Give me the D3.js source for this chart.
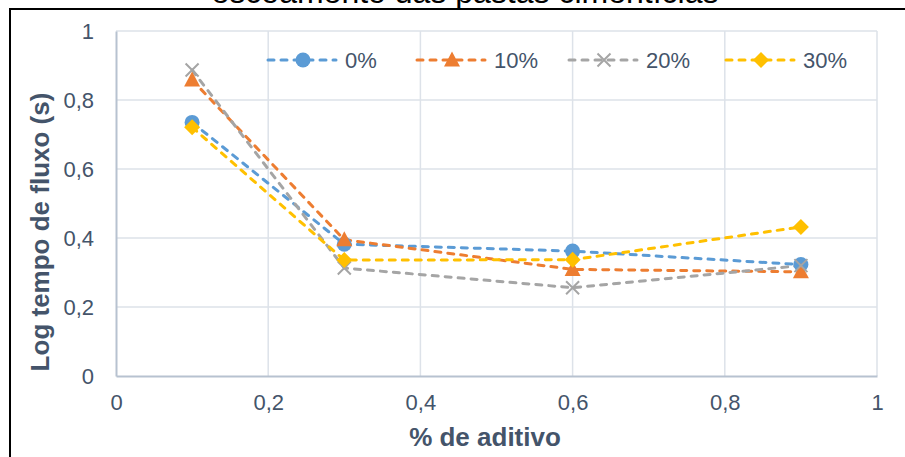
<!DOCTYPE html>
<html>
<head>
<meta charset="utf-8">
<script src="https://cdn.jsdelivr.net/npm/d3@7"></script>
<style>
  html, body { margin: 0; padding: 0; background: #fff; }
  svg { display: block; font-family: "Liberation Sans", Arial, sans-serif; }
</style>
</head>
<body>
<svg id="chart" width="905" height="457"></svg>
<script>
// Additive content (%) on the x axis
const aditivo = [0.1, 0.3, 0.6, 0.9];

// Log of flow time (s) for each replacement level
const serie0 = [0.735, 0.382, 0.362, 0.323];
const serie10 = [0.858, 0.395, 0.309, 0.302];
const serie20 = [0.887, 0.313, 0.256, 0.320];
const serie30 = [0.721, 0.336, 0.337, 0.432];

const seriesNames = ["0%", "10%", "20%", "30%"];
const seriesColors = ["#5b9bd5", "#ed7d31", "#a5a5a5", "#ffc000"];
const seriesSymbols = ["circle", "triangle", "cross", "diamond"];

const xTicks = [0, 0.2, 0.4, 0.6, 0.8, 1];
const yTicks = [0, 0.2, 0.4, 0.6, 0.8, 1];

const titleText = "escoamento das pastas cimentícias";
const xTitle = "% de aditivo";
const yTitle = "Log tempo de fluxo (s)";

const series = [serie0, serie10, serie20, serie30].map((vals, i) => ({
  name: seriesNames[i],
  color: seriesColors[i],
  symbol: seriesSymbols[i],
  points: vals.map((v, j) => ({ x: aditivo[j], y: v }))
}));

const svg = d3.select("#chart");
const fmt = d => String(d).replace(".", ",");
const textColor = "#44546a";

const margin = { left: 116, right: 28, top: 31, bottom: 81 };
const W = 905, H = 457;
const x = d3.scaleLinear().domain([0, 1]).range([margin.left, W - margin.right]);
const y = d3.scaleLinear().domain([0, 1]).range([H - margin.bottom, margin.top]);

// Title (the top line of the chart frame runs just under it)
svg.append("text")
  .attr("x", 465).attr("y", 3)
  .attr("text-anchor", "middle")
  .attr("font-size", 32)
  .attr("fill", "#000")
  .text(titleText);

// Frame around the chart
svg.append("rect")
  .attr("x", 10).attr("y", 9)
  .attr("width", 1000).attr("height", 1000)
  .attr("fill", "none")
  .attr("stroke", "#000")
  .attr("stroke-width", 2);

// Gridlines
const grid = svg.append("g");
grid.selectAll("line.gx").data(xTicks.filter(d => d > 0)).join("line")
  .attr("x1", d => x(d)).attr("x2", d => x(d))
  .attr("y1", y(0)).attr("y2", y(1))
  .attr("stroke", "#dde2e9").attr("stroke-width", 1.5);
grid.selectAll("line.gy").data(yTicks.filter(d => d > 0)).join("line")
  .attr("x1", x(0)).attr("x2", x(1))
  .attr("y1", d => y(d)).attr("y2", d => y(d))
  .attr("stroke", "#dde2e9").attr("stroke-width", 1.5);

// Axes
const xAxis = d3.axisBottom(x).tickValues(xTicks).tickFormat(fmt).tickSize(0).tickPadding(18);
const yAxis = d3.axisLeft(y).tickValues(yTicks).tickFormat(fmt).tickSize(0).tickPadding(22);

const gx = svg.append("g").attr("transform", `translate(0,${y(0)})`).call(xAxis);
const gy = svg.append("g").attr("transform", `translate(${x(0)},0)`).call(yAxis);
[gx, gy].forEach(g => {
  g.select(".domain").attr("stroke", "#b7c2d0").attr("stroke-width", 2);
  g.selectAll("text").attr("font-size", 22).attr("fill", textColor)
    .attr("font-family", "'Liberation Sans', Arial, sans-serif");
});

// Axis titles
svg.append("text")
  .attr("x", 485).attr("y", 446)
  .attr("text-anchor", "middle")
  .attr("font-size", 26).attr("font-weight", "bold")
  .attr("fill", textColor)
  .text(xTitle);
svg.append("text")
  .attr("transform", "translate(49,232) rotate(-90)")
  .attr("text-anchor", "middle")
  .attr("font-size", 26).attr("font-weight", "bold")
  .attr("fill", textColor)
  .text(yTitle);

// Marker shapes
function drawMarker(g, s, cx, cy) {
  if (s.symbol === "circle") {
    g.append("circle").attr("cx", cx).attr("cy", cy).attr("r", 7.5).attr("fill", s.color);
  } else if (s.symbol === "triangle") {
    g.append("path")
      .attr("d", `M${cx},${cy - 8.5}L${cx + 8},${cy + 6.5}L${cx - 8},${cy + 6.5}Z`)
      .attr("fill", s.color);
  } else if (s.symbol === "diamond") {
    g.append("path")
      .attr("d", `M${cx},${cy - 8}L${cx + 8},${cy}L${cx},${cy + 8}L${cx - 8},${cy}Z`)
      .attr("fill", s.color);
  } else {
    g.append("path")
      .attr("d", `M${cx - 6.5},${cy - 6.5}L${cx + 6.5},${cy + 6.5}M${cx + 6.5},${cy - 6.5}L${cx - 6.5},${cy + 6.5}`)
      .attr("stroke", s.color).attr("stroke-width", 2).attr("fill", "none");
  }
}

// Lines and markers
const line = d3.line().x(d => x(d.x)).y(d => y(d.y));
const plot = svg.append("g");
series.forEach(s => {
  plot.append("path")
    .datum(s.points)
    .attr("d", line)
    .attr("fill", "none")
    .attr("stroke", s.color)
    .attr("stroke-width", 3)
    .attr("stroke-dasharray", "6,7")
    .attr("stroke-linecap", "round");
});
series.forEach(s => {
  const g = plot.append("g");
  s.points.forEach(p => drawMarker(g, s, x(p.x), y(p.y)));
});

// Legend
const legendX = [268, 417, 569, 726];
const legend = svg.append("g");
series.forEach((s, i) => {
  const lx = legendX[i], ly = 60;
  const g = legend.append("g");
  g.append("line")
    .attr("x1", lx).attr("x2", lx + 68)
    .attr("y1", ly).attr("y2", ly)
    .attr("stroke", s.color).attr("stroke-width", 3)
    .attr("stroke-dasharray", "6,7").attr("stroke-linecap", "round");
  drawMarker(g, s, lx + 35, ly);
  g.append("text")
    .attr("x", lx + 77).attr("y", ly + 8)
    .attr("font-size", 22).attr("fill", textColor)
    .text(s.name);
});
</script>
</body>
</html>
